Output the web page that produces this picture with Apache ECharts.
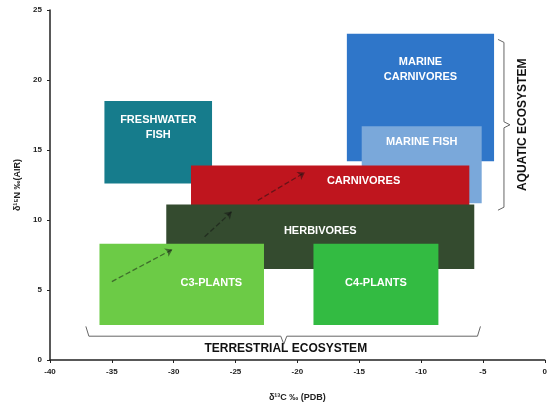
<!DOCTYPE html>
<html><head><meta charset="utf-8">
<script src="https://cdn.jsdelivr.net/npm/echarts@6/dist/echarts.min.js"></script>
<style>html,body{margin:0;padding:0;background:#fff}#c{width:550px;height:413px}</style>
</head><body><div id="c"></div>
<script>
// groups: name, x range (δ13C), y range (δ15N)
var groupNames = ['FRESHWATER\nFISH', 'MARINE\nCARNIVORES', 'MARINE FISH', 'CARNIVORES', 'HERBIVORES', 'C3-PLANTS', 'C4-PLANTS'];
var xMin = [-35.6, -16.0, -14.8, -28.6, -30.6, -36.0, -18.7];
var xMax = [-26.9, -4.1, -5.1, -6.1, -5.7, -22.7, -8.6];
var yMin = [12.6, 14.2, 11.2, 8.7, 6.5, 2.5, 2.5];
var yMax = [18.5, 23.3, 16.7, 13.9, 11.1, 8.3, 8.3];
var groupColors = ['#167c8c', '#2f76c9', '#7aa8da', '#bf151e', '#344b2f', '#6ccb46', '#33bb42'];
// label placement inside each box
var labelPos = [['50%', 26], ['50%', 36], ['50%', 16], ['62%', 16], ['50%', 26], ['68%', 39], ['50%', 39]];
// trophic arrows [x1, y1, x2, y2]
var arrows = [[-35.0, 5.6, -30.1, 7.9], [-27.5, 8.8, -25.3, 10.6], [-23.2, 11.4, -19.4, 13.4]];

var chart = echarts.init(document.getElementById('c'));
var rectData = groupNames.map(function (n, i) { return [xMin[i], xMax[i], yMin[i], yMax[i], i]; });

chart.setOption({
  animation: false,
  grid: { left: 50, right: 5, top: 10, bottom: 53 },
  xAxis: {
    type: 'value', min: -40, max: 0, interval: 5,
    name: 'δ¹³C ‰ (PDB)', nameLocation: 'middle', nameGap: 33,
    nameTextStyle: { fontFamily: 'Arial', fontWeight: 'bold', fontSize: 9, color: '#222' },
    axisLine: { onZero: false, lineStyle: { color: '#222', width: 1.5 } },
    axisTick: { lineStyle: { color: '#222' }, length: 3 },
    axisLabel: { fontFamily: 'Arial', fontWeight: 'bold', fontSize: 8, color: '#222' },
    splitLine: { show: false }
  },
  yAxis: {
    type: 'value', min: 0, max: 25, interval: 5, position: 'left',
    name: 'δ¹⁵N ‰(AIR)', nameLocation: 'middle', nameGap: 26,
    nameTextStyle: { fontFamily: 'Arial', fontWeight: 'bold', fontSize: 9, color: '#222' },
    axisLine: { show: true, onZero: false, lineStyle: { color: '#222', width: 1.5 } },
    axisTick: { show: true, lineStyle: { color: '#222' }, length: 3 },
    axisLabel: { fontFamily: 'Arial', fontWeight: 'bold', fontSize: 8, color: '#222' },
    splitLine: { show: false }
  },
  series: [
    {
      type: 'custom',
      data: rectData,
      renderItem: function (params, api) {
        var p1 = api.coord([api.value(0), api.value(3)]);
        var p2 = api.coord([api.value(1), api.value(2)]);
        var i = api.value(4);
        return {
          type: 'rect',
          shape: { x: p1[0], y: p1[1], width: p2[0] - p1[0], height: p2[1] - p1[1] },
          style: { fill: groupColors[i] },
          textContent: {
            style: { text: groupNames[i], fill: '#fff', font: 'bold 11px Arial', align: 'center', verticalAlign: 'middle', lineHeight: 15 }
          },
          textConfig: { position: labelPos[i] }
        };
      }
    },
    {
      type: 'lines', coordinateSystem: 'cartesian2d', z: 5,
      symbol: ['none', 'arrow'], symbolSize: 7,
      lineStyle: { color: '#111', type: 'dashed', width: 1.3 },
      data: arrows.map(function (a) { return { coords: [[a[0], a[1]], [a[2], a[3]]] }; })
    },
    {
      type: 'custom', z: 4,
      data: [[0]],
      renderItem: function (params, api) {
        var a = api.coord([-37.1, 2.4]), b = api.coord([-5.2, 2.4]);
        var yb = api.coord([-21.1, 1.7])[1], cx = api.coord([-21.1, 0])[0], yt = api.coord([0, 0.8])[1];
        var ax = api.coord([-3.3, 22.9]), ay2 = api.coord([-3.3, 10.7]);
        var mx = api.coord([-2.8, 16.8]);
        var ls = { stroke: '#666', lineWidth: 1, fill: 'none' };
        return {
          type: 'group', children: [
            { type: 'polyline', shape: { points: [[a[0], a[1]], [a[0] + 3, yb], [cx - 3, yb], [cx, yb + 8], [cx + 3, yb], [b[0] - 3, yb], [b[0], a[1]]] }, style: ls },
            { type: 'polyline', shape: { points: [[ax[0] - 6, ax[1]], [ax[0], ax[1] + 3], [ax[0], mx[1] - 3], [ax[0] + 6, mx[1]], [ax[0], mx[1] + 3], [ax[0], ay2[1] - 3], [ax[0] - 6, ay2[1]]] }, style: ls },
            { type: 'text', x: cx + 2, y: yt, style: { text: 'TERRESTRIAL ECOSYSTEM', font: 'bold 12px Arial', fill: '#111', align: 'center', verticalAlign: 'middle' } },
            { type: 'text', x: ax[0] + 19, y: mx[1], rotation: Math.PI / 2, style: { text: 'AQUATIC ECOSYSTEM', font: 'bold 12px Arial', fill: '#111', align: 'center', verticalAlign: 'middle' } }
          ]
        };
      }
    }
  ]
});
</script></body></html>
